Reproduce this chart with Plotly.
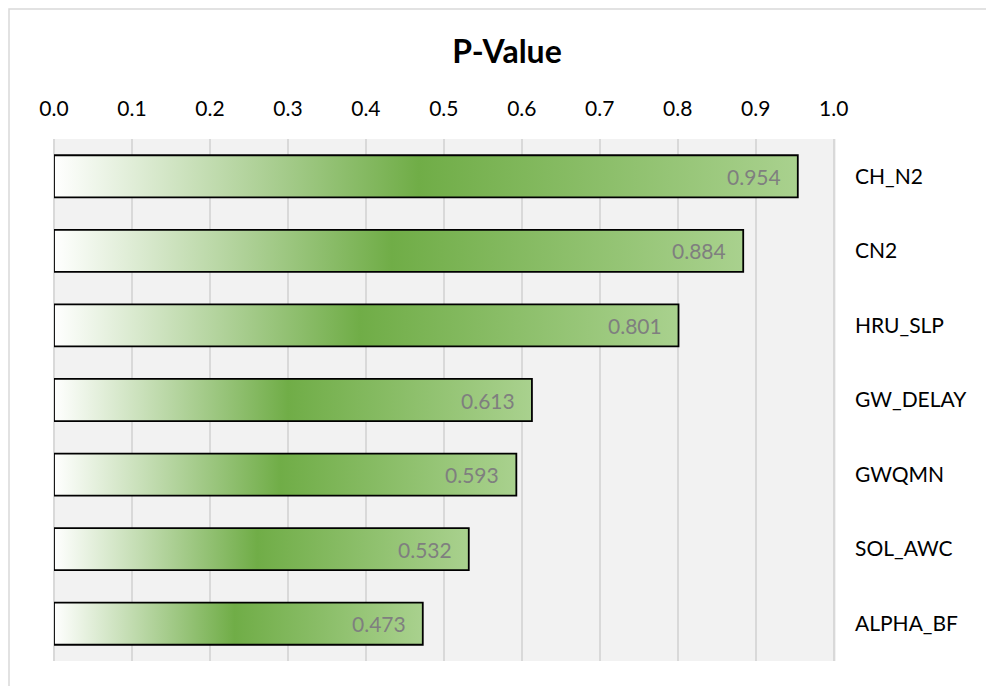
import plotly.graph_objects as go

categories = ["CH_N2", "CN2", "HRU_SLP", "GW_DELAY", "GWQMN", "SOL_AWC", "ALPHA_BF"]
p_values = [0.954, 0.884, 0.801, 0.613, 0.593, 0.532, 0.473]
tick_vals = [0.0, 0.1, 0.2, 0.3, 0.4, 0.5, 0.6, 0.7, 0.8, 0.9, 1.0]
tick_text = ["0.0", "0.1", "0.2", "0.3", "0.4", "0.5", "0.6", "0.7", "0.8", "0.9", "1.0"]

FONT = "Lato"
half = 0.282
grad = [[0.0, "#FFFFFF"], [0.49, "#70AD47"], [1.0, "#A9D18E"]]

W, H = 986, 678  # page body has an 8px margin
L, T = 46, 131
R = W - (836 - 8)
B = H - (661 - 8)
PW = W - L - R
PH = H - T - B

fig = go.Figure()
for i, (cat, v) in enumerate(zip(categories, p_values)):
    fig.add_trace(go.Scatter(
        x=[0, v, v, 0, 0],
        y=[i - half, i - half, i + half, i + half, i - half],
        mode="lines",
        fill="toself",
        fillgradient=dict(type="horizontal", colorscale=grad),
        line=dict(color="#000000", width=1.8),
        hoverinfo="skip",
        showlegend=False,
    ))
    fig.add_annotation(
        x=v, y=i, xref="x", yref="y",
        text=f"{v:.3f}", showarrow=False,
        xanchor="right", yanchor="middle", xshift=-15,
        font=dict(family=FONT, size=21, color="#7F7F7F"),
    )

# outer chart border
fig.add_shape(type="rect", xref="paper", yref="paper",
              x0=(1 - L) / PW, x1=1.3, y0=-0.2, y1=(H - 1 - B) / PH,
              line=dict(color="#D9D9D9", width=1.5), fillcolor="rgba(0,0,0,0)", layer="below")

fig.update_layout(
    width=W, height=H,
    margin=dict(l=L, r=R, t=T, b=B),
    paper_bgcolor="#FFFFFF",
    plot_bgcolor="#F2F2F2",
    title=dict(text="<b>P-Value</b>", x=(507 - 8) / W, xanchor="center",
               y=1 - 44 / H, yanchor="middle", yref="container",
               font=dict(family=FONT, size=32, color="#000000")),
    xaxis=dict(side="top", range=[0, 1.003], tickvals=tick_vals, ticktext=tick_text,
               showgrid=True, gridcolor="#D9D9D9", gridwidth=1.5,
               zeroline=True, zerolinecolor="#D9D9D9", zerolinewidth=1.5,
               showline=False, ticks="", ticklabelstandoff=18,
               tickfont=dict(family=FONT, size=21, color="#000000"), fixedrange=True),
    yaxis=dict(side="right", range=[6.5, -0.5], tickvals=list(range(len(categories))),
               ticktext=categories, showgrid=False, zeroline=False, showline=False,
               ticks="", ticklabelstandoff=18,
               tickfont=dict(family=FONT, size=21, color="#000000"), fixedrange=True),
)

fig.write_html("out.html")
